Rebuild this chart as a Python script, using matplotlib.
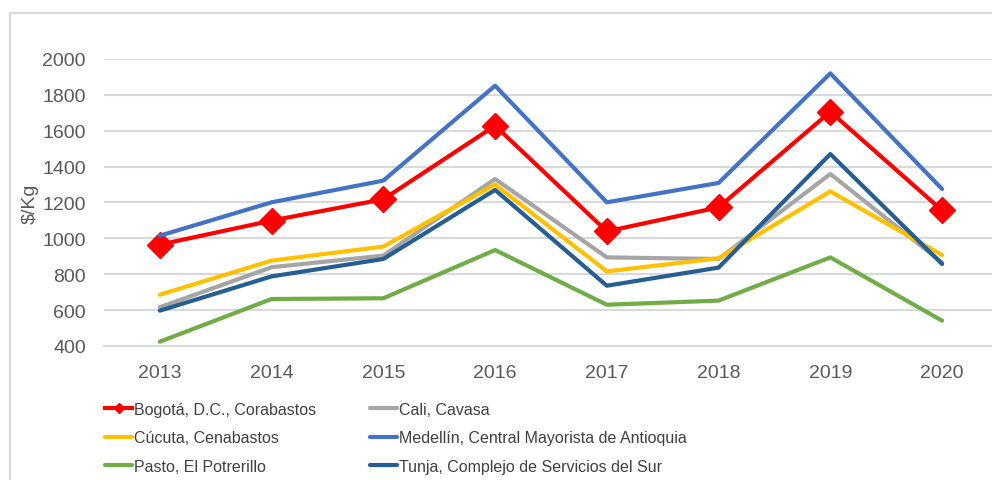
import matplotlib.pyplot as plt
import numpy as np
from matplotlib.lines import Line2D
from matplotlib.patches import Rectangle

years = ['2013', '2014', '2015', '2016', '2017', '2018', '2019', '2020']

markets = [
    'Bogotá, D.C., Corabastos',
    'Cali, Cavasa',
    'Cúcuta, Cenabastos',
    'Medellín, Central Mayorista de Antioquia',
    'Pasto, El Potrerillo',
    'Tunja, Complejo de Servicios del Sur',
]

bogota = [965, 1099, 1218, 1628, 1039, 1173, 1706, 1156]
cali = [616, 839, 904, 1331, 894, 885, 1359, 865]
cucuta = [686, 876, 954, 1300, 816, 889, 1262, 907]
medellin = [1015, 1201, 1322, 1851, 1201, 1309, 1920, 1275]
pasto = [424, 662, 666, 935, 630, 653, 894, 541]
tunja = [597, 788, 885, 1270, 736, 837, 1470, 857]

series = [bogota, cali, cucuta, medellin, pasto, tunja]
colors = ['#FF0000', '#A5A5A5', '#FFC000', '#4472C4', '#70AD47', '#255E91']

plt.rcParams['font.family'] = ['Liberation Sans', 'DejaVu Sans']

fig = plt.figure(figsize=(9.92, 4.81), dpi=100)
ax = fig.add_axes([0.1048, 0.2786, 0.9012, 0.5967])

# outer chart frame
fig.patches.append(Rectangle((10 / 992, -0.1), 1.2, 1 - 14 / 481 + 0.1,
                             transform=fig.transFigure, fill=False,
                             edgecolor='#D9D9D9', linewidth=1.5))

x = np.arange(len(years))
handles = []
for name, vals, col in zip(markets, series, colors):
    if name.startswith('Bogot'):
        ax.plot(x, vals, color=col, linewidth=3, marker='D',
                markersize=13, solid_capstyle='round')
        # legend swatch uses a much smaller diamond
        h = Line2D([], [], color=col, linewidth=3, marker='D', markersize=5)
    else:
        h, = ax.plot(x, vals, color=col, linewidth=3, solid_capstyle='round')
    h.set_label(name)
    handles.append(h)

ax.set_xlim(-0.5, 7.5)
ax.set_ylim(400, 2000)
ax.set_yticks(np.arange(400, 2001, 200))
ax.set_xticks(x)
ax.set_xticklabels(years)
ax.tick_params(axis='both', length=0, labelsize=14, labelcolor='#595959')
ax.tick_params(axis='y', pad=13)
ax.tick_params(axis='x', pad=13)
ax.grid(axis='y', color='#D9D9D9', linewidth=1.5)
ax.set_axisbelow(True)
for side in ['top', 'right', 'left']:
    ax.spines[side].set_visible(False)
ax.spines['bottom'].set_color('#D9D9D9')
ax.spines['bottom'].set_linewidth(1.5)
ax.set_ylabel('$/Kg', fontsize=14, color='#595959')
ax.yaxis.set_label_coords(-0.073, 0.5)

legend_style = dict(loc='upper left', frameon=False, fontsize=11.5,
                    handlelength=1.7, handletextpad=0.1, labelspacing=0.83,
                    borderpad=0, borderaxespad=0, labelcolor='#404040')
fig.legend(handles=handles[0::2], bbox_to_anchor=(105 / 992, 1 - 403 / 481),
           **legend_style)
fig.legend(handles=handles[1::2], bbox_to_anchor=(370 / 992, 1 - 403 / 481),
           **legend_style)

fig.savefig('out.png', dpi=100)
